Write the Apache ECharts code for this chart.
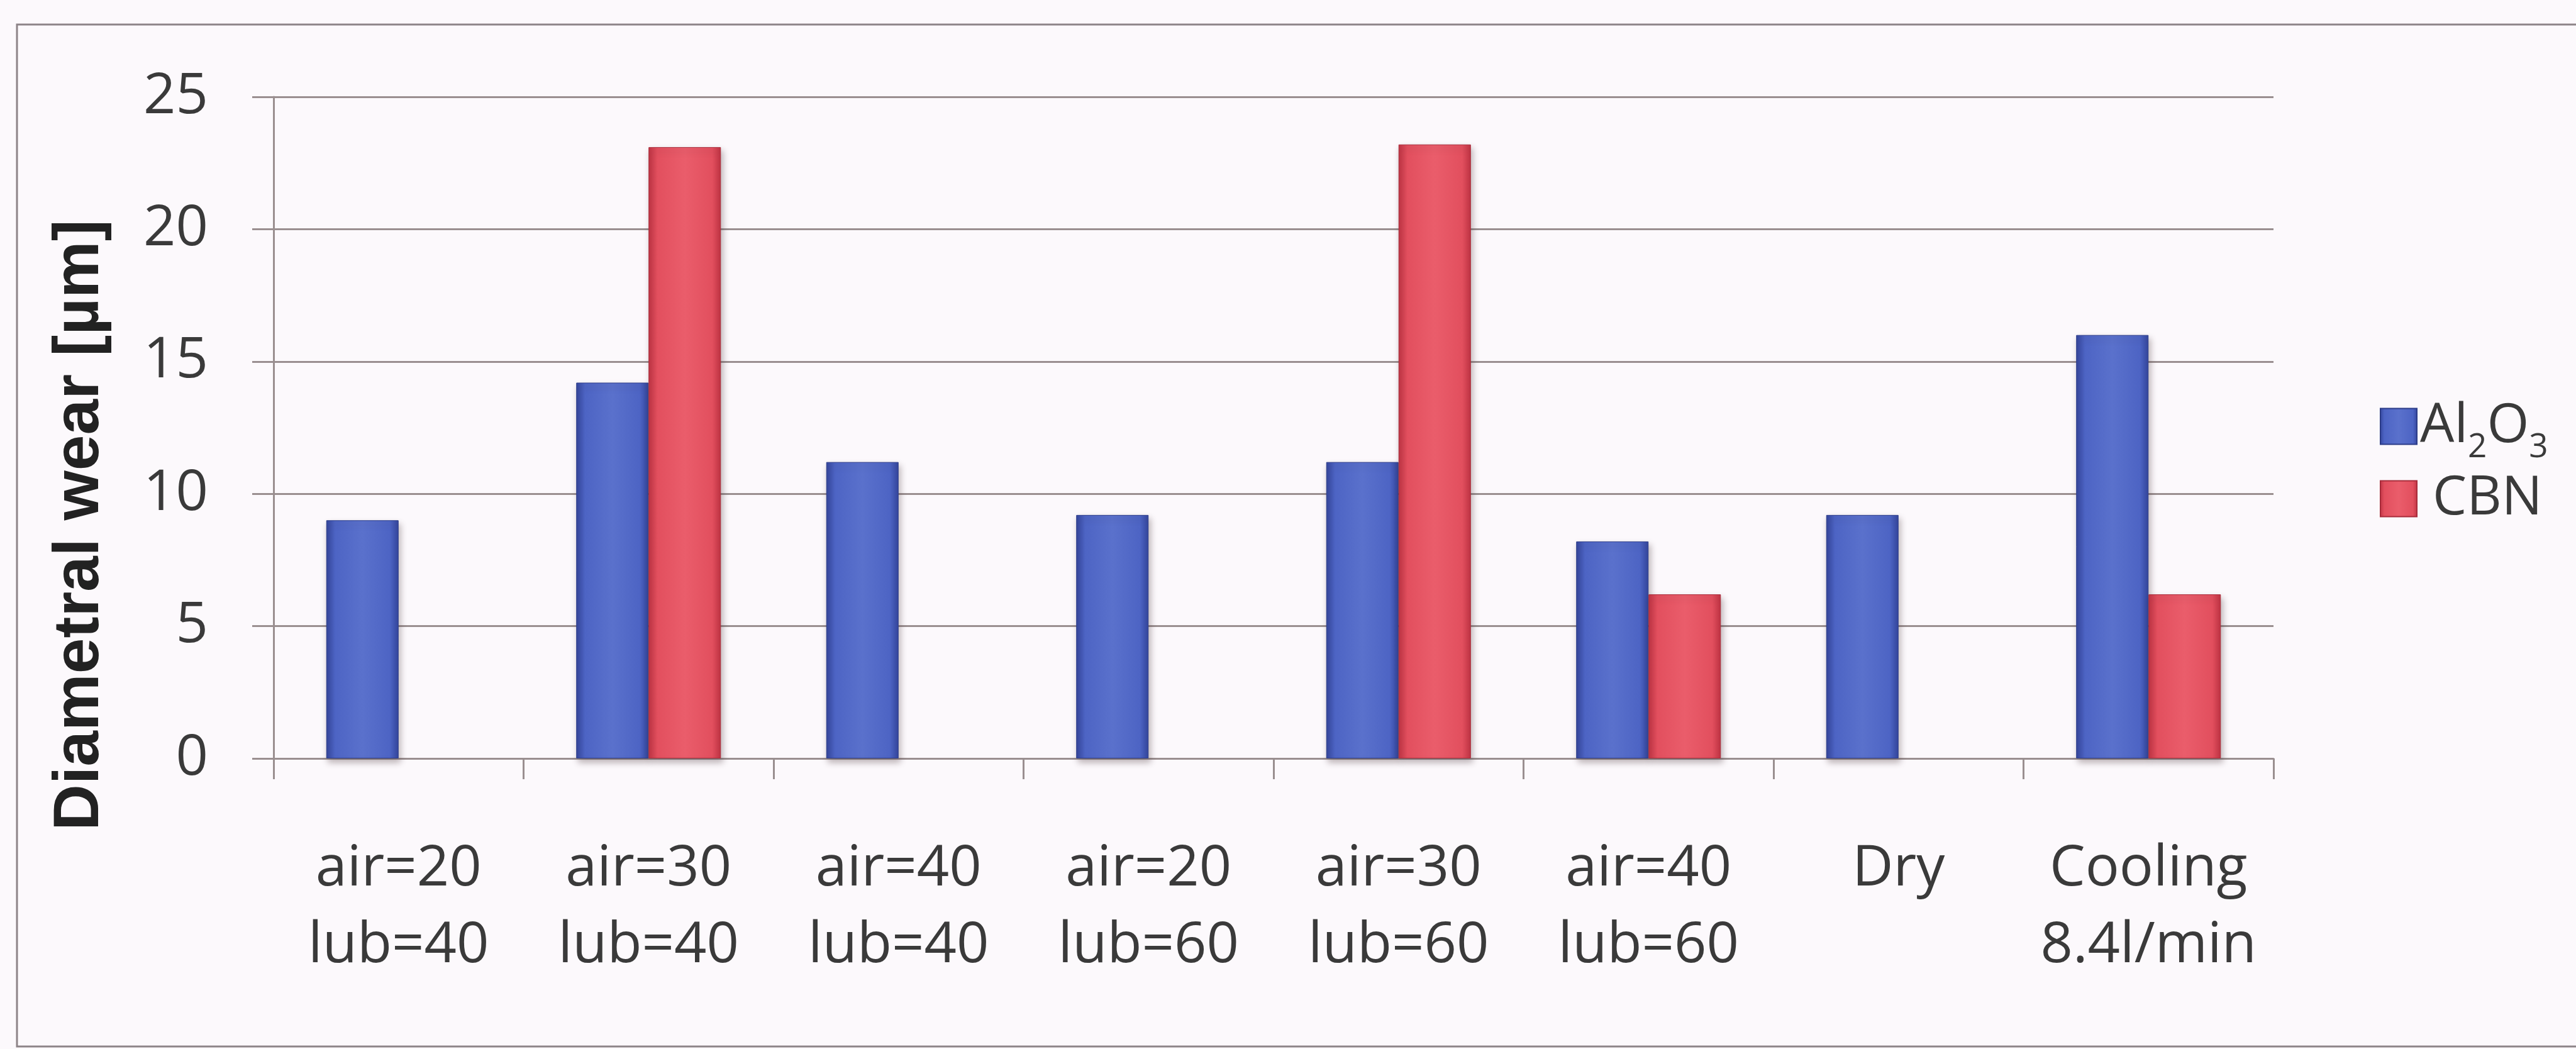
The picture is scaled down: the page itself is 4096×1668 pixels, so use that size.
<!DOCTYPE html>
<html>
<head>
<meta charset="utf-8">
<style>
  html, body { margin: 0; padding: 0; background: #fcf9fc; overflow: hidden; }
  #chart { width: 4096px; height: 1668px; }
</style>
<script src="https://cdn.jsdelivr.net/npm/echarts@6/dist/echarts.min.js"></script>
</head>
<body>
<div id="chart"></div>
<script>
// Diametral wear per cooling/lubrication condition
const categories = [
  'air=20\nlub=40', 'air=30\nlub=40', 'air=40\nlub=40', 'air=20\nlub=60',
  'air=30\nlub=60', 'air=40\nlub=60', 'Dry', 'Cooling\n8.4l/min'
];
const al2o3 = [9.0, 14.2, 11.2, 9.2, 11.2, 8.2, 9.2, 16.0];
const cbn = [null, 23.1, null, null, 23.2, 6.2, null, 6.2];
const yTicks = { min: 0, max: 25, interval: 5 };
const yTitle = 'Diametral wear [µm]';

const gridColor = '#9a8f90';
const textColor = '#3a3a3a';

// Bars: darker side edges and a lighter centre strip
function barStyle(edge, body, mid, border) {
  return {
    color: {
      type: 'linear', x: 0, y: 0, x2: 1, y2: 0,
      colorStops: [
        { offset: 0, color: edge },
        { offset: 0.12, color: body },
        { offset: 0.5, color: mid },
        { offset: 0.88, color: body },
        { offset: 1, color: edge }
      ]
    },
    borderColor: border,
    borderWidth: 1,
    shadowColor: 'rgba(70,50,55,0.35)',
    shadowBlur: 10,
    shadowOffsetX: 3,
    shadowOffsetY: 6
  };
}

const chart = echarts.init(document.getElementById('chart'), null, { renderer: 'canvas' });
chart.setOption({
  backgroundColor: '#fcf9fc',
  animation: false,
  grid: { left: 435, right: 481, top: 154, bottom: 462, containLabel: false },
  legend: {
    orient: 'vertical',
    left: 3779,
    top: 630,
    itemWidth: 58,
    itemHeight: 57,
    itemGap: 12,
    icon: 'rect',
    data: ['Al2O3', 'CBN'],
    // chemical formula with subscripts
    formatter: function (name) {
      return name === 'Al2O3' ? '{n|Al}{s|2}{n|O}{s|3}' : '{c|CBN}';
    },
    textStyle: {
      color: textColor,
      fontFamily: 'Open Sans',
      fontSize: 86,
      rich: {
        n: { fontFamily: 'Open Sans', fontSize: 86, lineHeight: 80, color: textColor },
        s: { fontFamily: 'Open Sans', fontSize: 53, lineHeight: 30, padding: [47, 0, 0, 0], verticalAlign: 'top', color: textColor },
        c: { fontFamily: 'Open Sans', fontSize: 86, lineHeight: 80, padding: [0, 0, 0, 20], color: textColor }
      }
    }
  },
  xAxis: {
    type: 'category',
    data: categories,
    axisLine: { show: true, lineStyle: { color: gridColor, width: 3 } },
    axisTick: { show: true, alignWithLabel: false, length: 33, lineStyle: { color: gridColor, width: 3 } },
    axisLabel: { color: textColor, fontFamily: 'Open Sans', fontSize: 90, lineHeight: 122, margin: 115, interval: 0 },
    splitLine: { show: false }
  },
  yAxis: {
    type: 'value',
    min: yTicks.min, max: yTicks.max, interval: yTicks.interval,
    axisLine: { show: true, lineStyle: { color: gridColor, width: 3 } },
    axisTick: { show: true, inside: false, length: 34, lineStyle: { color: gridColor, width: 3 } },
    axisLabel: { color: textColor, fontFamily: 'Open Sans', fontSize: 90, margin: 104 },
    splitLine: { show: true, lineStyle: { color: gridColor, width: 3 } }
  },
  series: [
    { name: 'Al2O3', type: 'bar', data: al2o3, barWidth: 115, barGap: '0%',
      itemStyle: barStyle('#33459c', '#4d64c4', '#5a71cc', '#2c3c88') },
    { name: 'CBN', type: 'bar', data: cbn, barWidth: 115, barGap: '0%',
      itemStyle: barStyle('#bf3343', '#e24f5e', '#ea5d6b', '#a82c3a') }
  ],
  graphic: [
    // chart frame
    { type: 'rect', silent: true, shape: { x: 27, y: 39, width: 4200, height: 1625 },
      style: { fill: null, stroke: '#8d8488', lineWidth: 3 }, z: -1 },
    // vertical axis title
    { type: 'text', x: 128, y: 835, rotation: Math.PI / 2,
      style: { text: yTitle, font: 'bold 102px "Liberation Sans"', fill: '#222222', align: 'center', verticalAlign: 'middle' } }
  ]
});
</script>
</body>
</html>
